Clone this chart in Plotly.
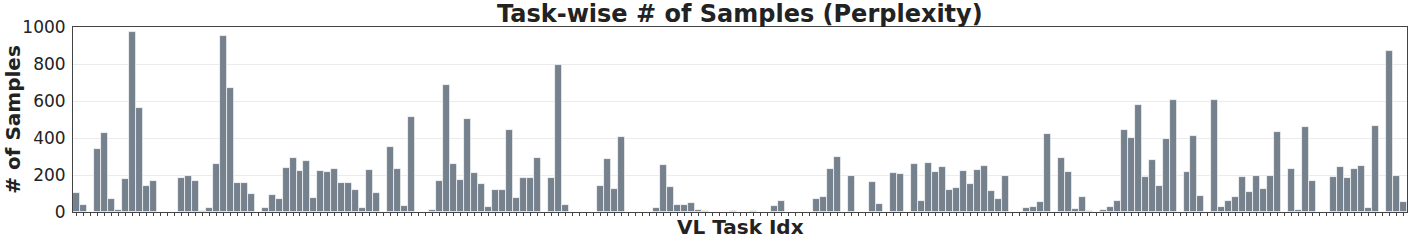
import plotly.graph_objects as go

samples = [
    105, 38, 0, 342, 427, 69, 9, 177, 973, 563,
    139, 168, 0, 0, 0, 185, 192, 170, 7, 20,
    262, 953, 670, 157, 159, 96, 0, 23, 94, 70,
    239, 291, 221, 277, 78, 224, 217, 230, 159, 159,
    119, 20, 226, 105, 0, 353, 232, 33, 512, 0,
    0, 9, 170, 686, 259, 172, 505, 210, 154, 27,
    121, 121, 442, 78, 183, 186, 290, 0, 183, 795,
    40, 0, 0, 0, 0, 143, 286, 127, 405, 0,
    0, 0, 0, 20, 252, 137, 40, 36, 47, 12,
    7, 0, 0, 0, 5, 0, 0, 5, 0, 0,
    31, 60, 0, 0, 0, 2, 70, 83, 230, 297,
    0, 196, 0, 0, 163, 41, 0, 212, 203, 0,
    261, 60, 266, 215, 241, 121, 130, 219, 152, 228,
    246, 112, 70, 194, 0, 0, 23, 27, 52, 422,
    0, 290, 214, 18, 83, 3, 0, 11, 25, 60,
    442, 400, 576, 190, 280, 143, 393, 607, 0, 217,
    409, 89, 0, 603, 27, 58, 83, 190, 107, 197,
    123, 194, 433, 0, 235, 9, 458, 168, 0, 0,
    188, 243, 183, 233, 246, 22, 465, 0, 871, 194,
    56,
]
task_idx = list(range(len(samples)))
y_ticks = [0, 200, 400, 600, 800, 1000]

title_text = "Task-wise # of Samples (Perplexity)"
x_title = "VL Task Idx"
y_title = "# of Samples"

FONT = "DejaVu Sans"

fig = go.Figure(
    go.Bar(
        x=task_idx,
        y=samples,
        marker=dict(color="#75818d", line=dict(color="rgba(255,255,255,0.85)", width=0.8)),
        width=1.0,
    )
)

fig.update_layout(
    width=1411,
    height=242,
    margin=dict(l=73, r=4, t=27, b=30, autoexpand=False),
    paper_bgcolor="white",
    plot_bgcolor="white",
    showlegend=False,
    bargap=0,
    font=dict(family=FONT, color="#222222"),
    annotations=[
        dict(text="<b>" + title_text + "</b>", xref="paper", yref="paper", x=0.5, y=1.072,
             xanchor="center", yanchor="middle", showarrow=False, font=dict(size=24, family=FONT, color="#222222")),
        dict(text="<b>" + x_title + "</b>", xref="paper", yref="paper", x=0.5, y=-0.081,
             xanchor="center", yanchor="middle", showarrow=False, font=dict(size=20, family=FONT, color="#222222")),
        dict(text="<b>" + y_title + "</b>", xref="paper", yref="paper", x=-0.0456, y=0.5,
             xanchor="center", yanchor="middle", textangle=-90, showarrow=False,
             font=dict(size=20, family=FONT, color="#222222")),
    ],
)

fig.update_xaxes(
    range=[-0.5, len(samples) - 0.5],
    automargin=False,
    tickmode="array",
    tickvals=task_idx,
    showticklabels=False,
    ticks="outside",
    ticklen=3,
    tickwidth=1,
    tickcolor="#444444",
    showline=True,
    linecolor="#444444",
    linewidth=1,
    mirror=True,
    showgrid=False,
    zeroline=False,
)
fig.update_yaxes(
    range=[0, 1000],
    automargin=False,
    tickmode="array",
    tickvals=y_ticks,
    ticktext=[str(v) for v in y_ticks],
    tickfont=dict(size=17, family=FONT, color="#222222"),
    ticks="outside",
    ticklen=3,
    tickcolor="rgba(0,0,0,0)",
    showline=True,
    linecolor="#444444",
    linewidth=1,
    mirror=True,
    showgrid=True,
    gridcolor="#ebebeb",
    gridwidth=1,
    zeroline=False,
)

fig.write_html("out.html", config={"displayModeBar": False})

# remove the browser's default body margin so the figure sits at the window origin
with open("out.html", "r", encoding="utf-8") as f:
    html = f.read()
html = html.replace("<body>", '<body style="margin:0;padding:0;overflow:hidden">', 1)
with open("out.html", "w", encoding="utf-8") as f:
    f.write(html)
